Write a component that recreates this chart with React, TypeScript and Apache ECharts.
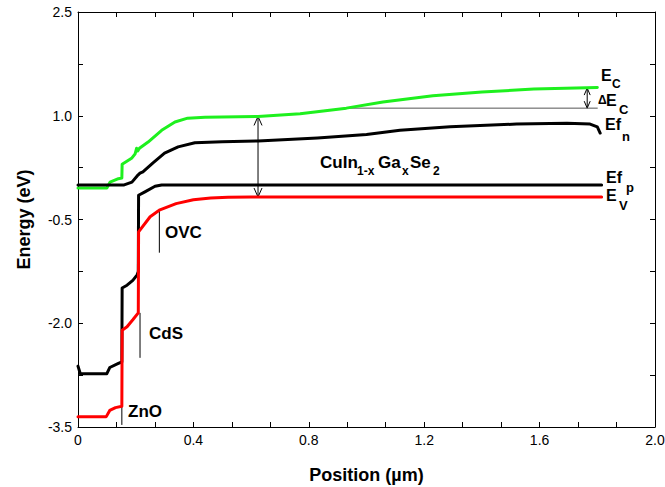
import React, { useEffect, useRef } from "react";
import * as echarts from "echarts";

// Band-diagram curves: [position (µm), energy (eV)]
const ecBand: [number, number][] = [
  [0, -0.045], [0.1, -0.045], [0.111, 0.04], [0.14, 0.09], [0.152, 0.1], [0.153, 0.3],
  [0.187, 0.39], [0.198, 0.45], [0.203, 0.53], [0.207, 0.49], [0.213, 0.53], [0.243, 0.62],
  [0.29, 0.79], [0.336, 0.91], [0.38, 0.965], [0.44, 0.98], [0.624, 0.99], [0.77, 1.03],
  [0.93, 1.11], [1.057, 1.2], [1.23, 1.29], [1.4, 1.345], [1.58, 1.385], [1.8, 1.41],
];
const efnLine: [number, number][] = [
  [0, 0], [0.16, 0], [0.187, 0.04], [0.205, 0.13], [0.215, 0.17], [0.225, 0.19],
  [0.26, 0.32], [0.3, 0.46], [0.347, 0.55], [0.405, 0.61], [0.5, 0.625], [0.624, 0.635],
  [0.83, 0.68], [1.0, 0.73], [1.116, 0.79], [1.29, 0.84], [1.52, 0.88], [1.695, 0.89],
  [1.775, 0.88], [1.8, 0.84], [1.81, 0.75],
];
const efpLine: [number, number][] = [
  [0, -2.62], [0.008, -2.73], [0.1, -2.73], [0.11, -2.64], [0.14, -2.58], [0.152, -2.56],
  [0.153, -1.49], [0.17, -1.45], [0.19, -1.38], [0.205, -1.3], [0.209, -1.25], [0.21, -0.15],
  [0.232, -0.1], [0.267, -0.02], [0.29, 0], [1.815, 0],
];
const evBand: [number, number][] = [
  [0, -3.35], [0.098, -3.35], [0.11, -3.26], [0.13, -3.22], [0.152, -3.2], [0.153, -2.1],
  [0.17, -2.05], [0.19, -1.95], [0.209, -1.85], [0.21, -0.68], [0.25, -0.46], [0.284, -0.36],
  [0.34, -0.27], [0.4, -0.215], [0.46, -0.19], [0.52, -0.18], [0.6, -0.175], [1.815, -0.175],
];
const deltaEcRef: [number, number][] = [[0.936, 1.11], [1.8, 1.11]];

// Double arrows: [x, low energy, high energy]
const arrows: [number, number, number][] = [
  [0.624, -0.175, 0.99],
  [1.765, 1.11, 1.4],
];
// Layer marker lines: [x, top energy, bottom energy]
const markers: [number, number, number][] = [
  [0.152, -3.2, -3.47],
  [0.215, -1.85, -2.5],
  [0.282, -0.36, -0.98],
];

const xTicks = { min: 0, max: 2.0, interval: 0.4 };
const yTicks = { min: -3.5, max: 2.5, interval: 1.5 };

const FONT = '"Liberation Sans", Arial, Helvetica, sans-serif';

function txt(text: string, x: number, y: number, size = 17) {
  return {
    type: "text",
    x,
    y,
    z: 100,
    style: {
      text,
      fill: "#000",
      font: `bold ${size}px ${FONT}`,
      align: "left",
      verticalAlign: "middle",
    },
  };
}

export default function App() {
  const ref = useRef<HTMLDivElement>(null);
  useEffect(() => {
    if (!ref.current) return;
    const chart = echarts.init(ref.current, undefined, { renderer: "svg" });
    const axisCommon = {
      type: "value",
      axisLine: { show: true, onZero: false, lineStyle: { color: "#000", width: 1 } },
      axisTick: { show: true, inside: true, length: 5, lineStyle: { color: "#000" } },
      minorTick: { show: true, length: 5, lineStyle: { color: "#000" } },
      splitLine: { show: false },
      minorSplitLine: { show: false },
    };
    const lineSeries = (data: [number, number][], color: string, width = 3) => ({
      type: "line",
      data,
      showSymbol: false,
      symbol: "none",
      smooth: false,
      lineStyle: { color, width, join: "round", cap: "round" },
      silent: true,
    });
    const option: any = {
      animation: false,
      backgroundColor: "#fff",
      grid: { left: 78, right: 10, top: 12, bottom: 60, containLabel: false, outerBoundsMode: "none" },
      xAxis: [
        {
          ...axisCommon,
          ...xTicks,
          position: "bottom",
          minorTick: { ...axisCommon.minorTick, splitNumber: 3 },
          axisLabel: {
            color: "#000",
            fontSize: 14,
            fontFamily: FONT,
            margin: 6,
            formatter: (v: number) => (v === 0 ? "0" : v.toFixed(1)),
          },
          name: "Position (\u00b5m)",
          nameLocation: "middle",
          nameGap: 39,
          nameTextStyle: { color: "#000", fontSize: 18, fontWeight: "bold", fontFamily: FONT },
        },
        {
          ...axisCommon,
          ...xTicks,
          position: "top",
          minorTick: { ...axisCommon.minorTick, splitNumber: 3 },
          axisLabel: { show: false },
        },
      ],
      yAxis: [
        {
          ...axisCommon,
          ...yTicks,
          position: "left",
          minorTick: { ...axisCommon.minorTick, splitNumber: 2 },
          axisLabel: {
            color: "#000",
            fontSize: 14,
            fontFamily: FONT,
            margin: 6,
            formatter: (v: number) => v.toFixed(1),
          },
          name: "Energy (eV)",
          nameLocation: "middle",
          nameGap: 45,
          nameTextStyle: { color: "#000", fontSize: 18, fontWeight: "bold", fontFamily: FONT },
        },
        {
          ...axisCommon,
          ...yTicks,
          position: "right",
          minorTick: { ...axisCommon.minorTick, splitNumber: 2 },
          axisLabel: { show: false },
        },
      ],
      series: [
        lineSeries(deltaEcRef, "#555", 1),
        lineSeries(ecBand, "#1ef01e"),
        lineSeries(efnLine, "#000"),
        lineSeries(efpLine, "#000"),
        lineSeries(evBand, "#ff0000"),
        {
          type: "custom",
          data: markers,
          encode: { x: 0, y: [1, 2] },
          silent: true,
          renderItem: (_p: any, api: any) => {
            const a = api.coord([api.value(0), api.value(1)]);
            const b = api.coord([api.value(0), api.value(2)]);
            return {
              type: "line",
              shape: { x1: a[0], y1: a[1], x2: b[0], y2: b[1] },
              style: { stroke: "#000", lineWidth: 1 },
            };
          },
        },
        {
          type: "custom",
          data: arrows,
          encode: { x: 0, y: [1, 2] },
          silent: true,
          renderItem: (p: any, api: any) => {
            const lo = api.coord([api.value(0), api.value(1)]);
            const hi = api.coord([api.value(0), api.value(2)]);
            const hw = p.dataIndex === 0 ? 4 : 3;
            const hl = p.dataIndex === 0 ? 9 : 7;
            const st = { stroke: "#000", lineWidth: 1, fill: null };
            return {
              type: "group",
              children: [
                { type: "line", shape: { x1: lo[0], y1: lo[1], x2: hi[0], y2: hi[1] }, style: st },
                {
                  type: "polyline",
                  shape: { points: [[hi[0] - hw, hi[1] + hl], [hi[0], hi[1]], [hi[0] + hw, hi[1] + hl]] },
                  style: st,
                },
                {
                  type: "polyline",
                  shape: { points: [[lo[0] - hw, lo[1] - hl], [lo[0], lo[1]], [lo[0] + hw, lo[1] - hl]] },
                  style: st,
                },
              ],
            };
          },
        },
      ],
      graphic: [
        txt("OVC", 165, 232),
        txt("CdS", 149, 333),
        txt("ZnO", 128, 411),
        txt("CuIn", 320, 162),
        txt("1-x", 357, 171, 12),
        txt("Ga", 378, 162),
        txt("x", 402, 171, 12),
        txt("Se", 410, 162),
        txt("2", 433, 171, 12),
        txt("E", 601, 75, 16),
        txt("C", 612, 84, 12),
        txt("\u0394", 598, 100, 12),
        txt("E", 606, 100, 16),
        txt("C", 619, 109, 13),
        txt("Ef", 605, 124, 16),
        txt("n", 622, 136, 13),
        txt("Ef", 606, 177, 16),
        txt("p", 626, 187, 13),
        txt("E", 606, 195, 16),
        txt("V", 619, 205, 13),
      ],
    };
    chart.setOption(option);
    return () => chart.dispose();
  }, []);
  return (
    <div
      ref={ref}
      style={{ position: "fixed", left: 0, top: 0, width: 665, height: 487, background: "#fff" }}
    />
  );
}
